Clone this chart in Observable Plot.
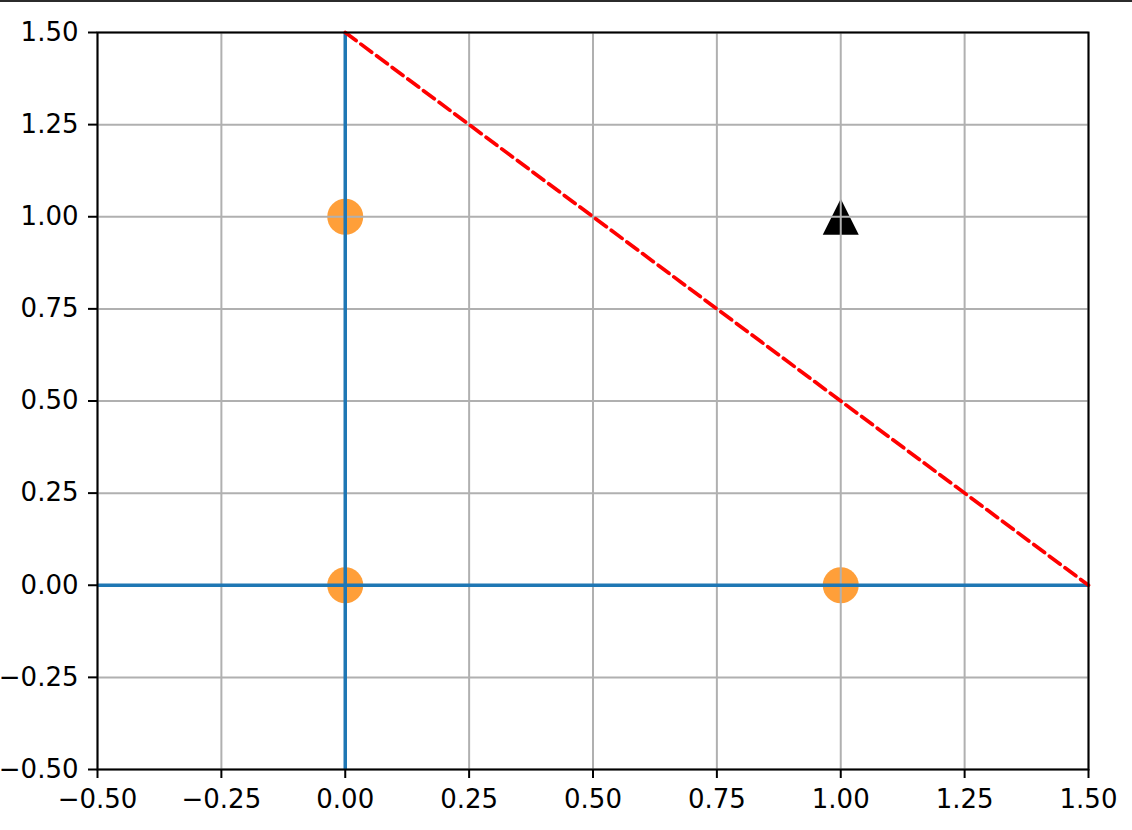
<!DOCTYPE html>
<html>
<head>
<meta charset="utf-8">
<script src="https://cdn.jsdelivr.net/npm/d3@7"></script>
<script src="https://cdn.jsdelivr.net/npm/@observablehq/plot@0.6"></script>
<style>
  html, body { margin: 0; padding: 0; background: #fff; }
  #topline { position: absolute; left: 0; top: 0; width: 1132px; height: 2px; background: #2b2b2b; }
  #chart { position: absolute; left: 0; top: 0; }
</style>
</head>
<body>
<div id="chart"></div>
<div id="topline"></div>
<script>
// Data
const xTicks = [-0.5, -0.25, 0, 0.25, 0.5, 0.75, 1, 1.25, 1.5];
const yTicks = [-0.5, -0.25, 0, 0.25, 0.5, 0.75, 1, 1.25, 1.5];
const circleX = [0, 0, 1];
const circleY = [1, 0, 0];
const triangleX = [1];
const triangleY = [1];
const boundaryX = [0, 1.5];
const boundaryY = [1.5, 0];
const hLineY = [0];
const vLineX = [0];

const circles = circleX.map((x, i) => ({x, y: circleY[i]}));
const triangles = triangleX.map((x, i) => ({x, y: triangleY[i]}));
const boundary = boundaryX.map((x, i) => ({x, y: boundaryY[i]}));

// matplotlib-like triangle_up: bbox centered on the point
const triUp = {
  draw(ctx, size) {
    const r = Math.sqrt(size / Math.PI);
    ctx.moveTo(0, -r);
    ctx.lineTo(r, r);
    ctx.lineTo(-r, r);
    ctx.closePath();
  }
};

const fmt = d3.format(".2f");

const chart = Plot.plot({
  width: 1132,
  height: 830,
  marginLeft: 97,
  marginRight: 44,
  marginTop: 32,
  marginBottom: 61,
  style: {fontFamily: "DejaVu Sans", fontSize: "26px", color: "#000", background: "transparent"},
  x: {domain: [-0.5, 1.5]},
  y: {domain: [-0.5, 1.5]},
  marks: [
    Plot.dot(circles, {x: "x", y: "y", r: 18, fill: "#ff9a2e", fillOpacity: 0.95, stroke: "none"}),
    Plot.dot(triangles, {x: "x", y: "y", r: 18, symbol: triUp, fill: "black", stroke: "none"}),
    Plot.gridX(xTicks, {stroke: "#b0b0b0", strokeOpacity: 1, strokeWidth: 2}),
    Plot.gridY(yTicks, {stroke: "#b0b0b0", strokeOpacity: 1, strokeWidth: 2}),
    Plot.ruleY(hLineY, {stroke: "#1f77b4", strokeWidth: 3.5}),
    Plot.ruleX(vLineX, {stroke: "#1f77b4", strokeWidth: 3.5}),
    Plot.line(boundary, {x: "x", y: "y", stroke: "red", strokeWidth: 3.7, strokeDasharray: "13.5,6"}),
    Plot.frame({stroke: "black", strokeWidth: 2}),
    Plot.axisX(xTicks, {tickSize: 9, tickPadding: 11, tickFormat: fmt, strokeWidth: 2, label: null}),
    Plot.axisY(yTicks, {tickSize: 9, tickPadding: 10, tickFormat: fmt, strokeWidth: 2, label: null})
  ]
});
document.getElementById("chart").appendChild(chart);
</script>
</body>
</html>
